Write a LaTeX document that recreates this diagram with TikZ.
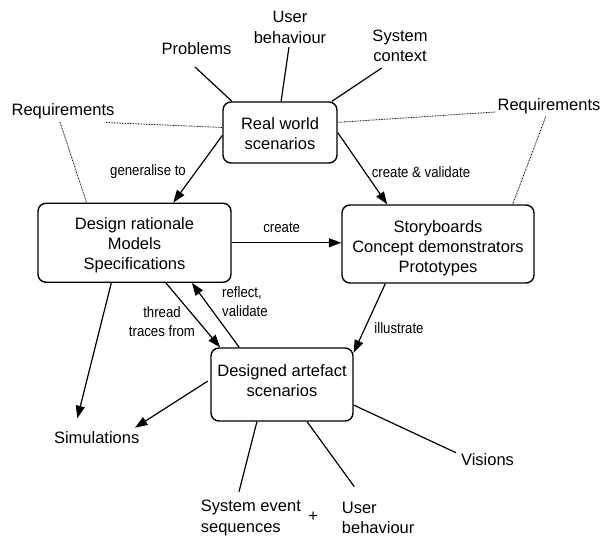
\documentclass[tikz,border=0pt]{standalone}
\usepackage{fontspec}
\setmainfont{Liberation Sans}
\newfontfamily\lblfont{Liberation Sans}[FakeStretch=0.88]
\usetikzlibrary{arrows.meta}
\begin{document}
\begin{tikzpicture}[x=1pt,y=-1pt,
  box/.style={draw,line width=1.4pt,rounded corners=8pt,align=center,inner sep=0pt},
  boxtxt/.style={inner sep=0pt,align=center,font=\fontsize{16.5}{20}\selectfont},
  txt/.style={inner sep=0pt,align=center,font=\fontsize{16.5}{20.5}\selectfont},
  lbl/.style={inner sep=0pt,align=center,font=\lblfont\fontsize{15}{19}\selectfont},
  conn/.style={line width=1.2pt},
  arr/.style={line width=1.2pt,-{Triangle[length=12.5pt,width=9pt]}},
  dots/.style={line width=0.8pt,dash pattern=on 0.8pt off 0.8pt}
]
\useasboundingbox (0,0) rectangle (603,536);

% boxes
\node[box,minimum width=114pt,minimum height=61pt,
  label={[boxtxt,yshift=-1pt]center:Real world\\scenarios}] (rw) at (280,132.5) {};
\node[box,minimum width=193pt,minimum height=79pt,
  label={[boxtxt,yshift=-2.5pt]center:Design rationale\\Models\\Specifications}] (dr) at (134.5,242.75) {};
\node[box,minimum width=192pt,minimum height=78pt,
  label={[boxtxt,yshift=-4.5pt]center:Storyboards\\Concept demonstrators\\Prototypes}] (sb) at (438,244) {};
\node[box,minimum width=142pt,minimum height=73pt,
  label={[boxtxt,yshift=4pt]center:Designed artefact\\scenarios}] (da) at (282,384.5) {};

% free texts
\node[txt] (prob) at (196.5,48.5) {Problems};
\node[txt] (ub1) at (290,27.5) {User\\behaviour};
\node[txt] (sc) at (400,46) {System\\context};
\node[txt] (reqL) at (63,111.5) {Requirements};
\node[txt] (reqR) at (549,106.5) {Requirements};
\node[txt] (sim) at (96.7,437.5) {Simulations};
\node[txt] (vis) at (487.5,459.4) {Visions};
\node[txt,anchor=west,align=left] (ses) at (200.7,518) {System event\\sequences};
\node[txt] (plus) at (313.3,517) {+};
\node[txt,anchor=west,align=left] (ub2) at (341.7,518) {User\\behaviour};

% edge labels
\node[lbl] (lgen) at (148,172) {generalise to};
\node[lbl] (lcv) at (421,172) {create \& validate};
\node[lbl] (lcr) at (281.7,227.3) {create};
\node[lbl,anchor=west,align=left] (lref) at (222,302) {reflect,\\validate};
\node[lbl] (lthr) at (162,322) {thread\\traces from};
\node[lbl] (lill) at (399,328) {illustrate};

% free ends
\coordinate (cProb) at (195,67);
\coordinate (cUB) at (289,47);
\coordinate (cSC) at (381.7,68);
\coordinate (cRL1) at (106,122.5);
\coordinate (cRL2) at (60,122);
\coordinate (cRR1) at (495,112);
\coordinate (cRR2) at (545.7,116.7);
\coordinate (cSim1) at (77.3,418.3);
\coordinate (cSim2) at (135,427.7);
\coordinate (cSES) at (239,491.7);
\coordinate (cUB2) at (354.3,486.7);
\coordinate (cVis) at (456,452.7);

% connectors
\draw[conn] (cProb) -- (rw.147);
\draw[conn] (cUB) -- (rw.88);
\draw[conn] (cSC) -- (rw.31);
\draw[dots] (cRL1) -- (rw.175);
\draw[dots] (cRR1) -- (rw.10);
\draw[dots] (cRL2) -- (dr.140);
\draw[dots] (cRR2) -- (sb.28);
\draw[arr] (rw.183) -- (dr.46);
\draw[arr] (rw.0) -- (sb.142);
\draw[arr] (dr.east) -- (dr.east -| sb.west);
\draw[arr] (dr.308) -- (da.149);
\draw[arr] (da.139) -- (dr.325);
\draw[arr] (sb.217) -- (da.24);
\draw[arr] (dr.240) -- (cSim1);
\draw[arr,shorten <=3pt] (da.176) -- (cSim2);
\draw[conn] (da.236) -- (cSES);
\draw[conn] (da.304) -- (cUB2);
\draw[conn] (da.344) -- (cVis);
\end{tikzpicture}
\end{document}
